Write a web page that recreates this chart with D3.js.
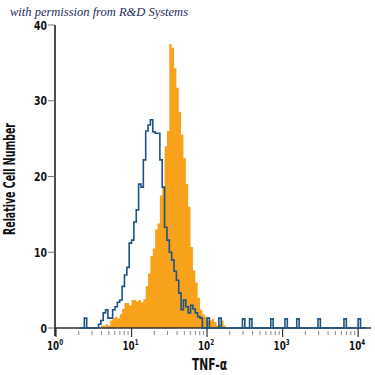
<!DOCTYPE html>
<html>
<head>
<meta charset="utf-8">
<script src="https://cdn.jsdelivr.net/npm/d3@7"></script>
<style>
  body { margin: 0; background: #fff; }
  svg { display: block; }
  .lbl { font-family: "Liberation Sans Narrow", "DejaVu Sans Condensed", sans-serif; font-weight: bold; fill: #111; }
</style>
</head>
<body>
<svg width="375" height="375"></svg>
<script>
// histogram channels: 32 per decade, index i starts at 10^(i/32)
var binWidth = 1 / 32;

// filled (orange) histogram, starts at channel 19
var orangeStart = 19;
var orangeCounts = [0.3, 0.3, 0.5, 0.3, 1.0, 1.3, 1.5, 1.3, 1.8, 2.5,
  3.3, 3.3, 3.0, 3.7, 3.7, 3.5, 3.7, 3.4, 3.8, 5.5,
  7.2, 9.5, 10.5, 13.0, 13.8, 17.5, 18.5, 24.0, 26.0, 37.5,
  37.0, 34.3, 31.7, 28.5, 25.5, 22.4, 19.0, 16.0, 10.7, 7.6,
  6.0, 4.0, 2.4, 1.8, 1.5, 1.0, 1.0, 1.2, 0.8, 0.3,
  0.5, 1.0, 0.3];

// outline (blue) histogram, main block starts at channel 10
var blueStart = 10;
var blueCounts = [0, 0, 1.3, 0, 0, 0, 0, 0, 0.5, 1.0,
  2.0, 2.4, 1.3, 1.3, 2.4, 2.8, 3.4, 3.7, 5.5, 7.0,
  8.0, 11.2, 11.6, 14.0, 15.6, 19.0, 18.6, 22.2, 26.0, 26.8,
  27.5, 25.9, 25.7, 25.7, 22.2, 18.6, 13.3, 11.6, 10.0, 9.0,
  7.5, 6.3, 4.6, 2.4, 3.7, 2.8, 2.0, 3.0, 2.5, 2.0,
  1.5, 1.3, 0];
// isolated events out in the tail: [channel, count]
var blueSparse = [[64, 1.3], [69, 1.3], [79, 1.2], [82, 1.2], [91, 1.2],
  [97, 1.2], [102, 1.2], [111, 1.2], [122, 1.2], [128, 1.2]];
var blueEnd = 131;

var yTicks = [0, 10, 20, 30, 40];
var xTicks = [1, 10, 100, 1000, 10000];

var svg = d3.select("svg");
var x = d3.scaleLog().domain([1, 14800]).range([56, 371]);
var y = d3.scaleLinear().domain([0, 40]).range([328, 25]);

function chan(i) { return Math.pow(10, i * binWidth); }

// build points for step curves
var orangePts = orangeCounts.map(function (c, k) { return [chan(orangeStart + k), c]; });
orangePts.push([chan(orangeStart + orangeCounts.length), orangeCounts[orangeCounts.length - 1]]);

var blueAll = [];
for (var i = blueStart; i <= blueEnd; i++) {
  var k = i - blueStart;
  blueAll.push([i, k < blueCounts.length ? blueCounts[k] : 0]);
}
blueSparse.forEach(function (s) { blueAll[s[0] - blueStart][1] = s[1]; });
var bluePts = blueAll.map(function (d) { return [chan(d[0]), d[1]]; });

svg.append("path")
  .attr("d", d3.area()
    .curve(d3.curveStepAfter)
    .x(function (d) { return x(d[0]); })
    .y0(y(0))
    .y1(function (d) { return y(d[1]); })(orangePts))
  .attr("fill", "#f8a21c");

// x axis line + ticks
svg.append("line").attr("x1", 55).attr("x2", 371).attr("y1", y(0)).attr("y2", y(0))
  .attr("stroke", "#333").attr("stroke-width", 1.5);

var minor = [];
for (var e = 0; e < 4; e++) for (var m = 2; m <= 9; m++) minor.push(m * Math.pow(10, e));
svg.selectAll(".minor").data(minor).enter().append("line")
  .attr("x1", function (d) { return x(d); }).attr("x2", function (d) { return x(d); })
  .attr("y1", y(0) + 3).attr("y2", y(0) + 7)
  .attr("stroke", "#888").attr("stroke-width", 1);
svg.selectAll(".major").data(xTicks).enter().append("line")
  .attr("x1", function (d) { return x(d); }).attr("x2", function (d) { return x(d); })
  .attr("y1", y(0)).attr("y2", y(0) + 9)
  .attr("stroke", "#333").attr("stroke-width", 1.2);

var xl = svg.selectAll(".xl").data(xTicks).enter().append("g")
  .attr("transform", function (d) { return "translate(" + (x(d) - 1) + ",350) scale(0.78,1)"; })
  .append("text")
  .attr("class", "lbl")
  .attr("text-anchor", "middle")
  .attr("font-size", 12.5);
xl.append("tspan").text("10");
xl.append("tspan").attr("dy", -5).attr("font-size", 8)
  .text(function (d) { return Math.round(Math.log10(d)); });

// y axis
svg.append("line").attr("x1", 55).attr("x2", 55).attr("y1", 25).attr("y2", y(0) + 8)
  .attr("stroke", "#111").attr("stroke-width", 1.5);
svg.selectAll(".yt").data(yTicks).enter().append("line")
  .attr("x1", 48).attr("x2", 55)
  .attr("y1", function (d) { return y(d); }).attr("y2", function (d) { return y(d); })
  .attr("stroke", "#777").attr("stroke-width", 1);
svg.selectAll(".yl").data(yTicks).enter().append("g")
  .attr("transform", function (d) { return "translate(47," + (y(d) + 4.5) + ") scale(0.8,1)"; })
  .append("text")
  .attr("class", "lbl")
  .attr("text-anchor", "end")
  .attr("font-size", 13)
  .text(function (d) { return d; });

svg.append("path")
  .attr("d", d3.line()
    .curve(d3.curveStepAfter)
    .x(function (d) { return x(d[0]); })
    .y(function (d) { return y(d[1]); })(bluePts))
  .attr("fill", "none")
  .attr("stroke", "#1a5485")
  .attr("stroke-width", 1.6);

// labels
svg.append("text").attr("class", "lbl")
  .attr("x", 192).attr("y", 370)
  .attr("font-size", 15.5)
  .attr("textLength", 35).attr("lengthAdjust", "spacingAndGlyphs")
  .text("TNF-α");

svg.append("text").attr("class", "lbl")
  .attr("transform", "translate(15,235) rotate(-90)")
  .attr("font-size", 15)
  .attr("textLength", 112).attr("lengthAdjust", "spacingAndGlyphs")
  .text("Relative Cell Number");

svg.append("text")
  .attr("x", 10).attr("y", 16)
  .attr("font-family", "'Liberation Serif', 'DejaVu Serif', serif")
  .attr("font-style", "italic")
  .attr("font-size", 12.5)
  .attr("fill", "#1d2b5c")
  .text("with permission from R&D Systems");
</script>
</body>
</html>
